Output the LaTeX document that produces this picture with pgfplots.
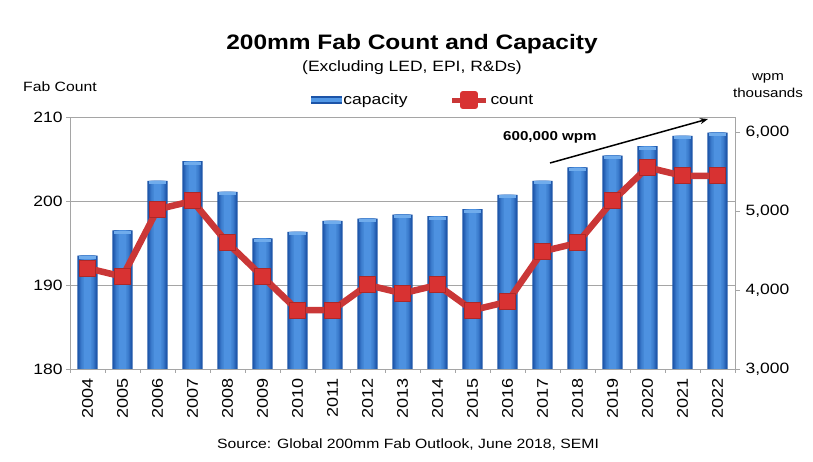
\documentclass[border=0pt]{standalone}
\usepackage{pgfplots}
\usepackage{pgfplotstable}
\pgfplotsset{compat=1.18}
\usepackage{fontspec}
\setmainfont{Liberation Sans}[FakeStretch=1.17]
\usetikzlibrary{arrows.meta}
\definecolor{barL}{RGB}{28,84,168}
\definecolor{barM}{RGB}{82,152,230}
\definecolor{barCap}{RGB}{112,172,236}
\definecolor{lineR}{RGB}{202,55,55}
\definecolor{markR}{RGB}{216,50,50}
\definecolor{gridG}{RGB}{165,165,165}
\pgfplotstableread{
x cap cnt
0 4440 192
1 4760 191
2 5390 199
3 5640 200
4 5250 195
5 4660 191
6 4740 187
7 4880 187
8 4910 190
9 4960 189
10 4940 190
11 5030 187
12 5210 188
13 5390 194
14 5560 195
15 5710 200
16 5830 204
17 5960 203
18 6000 203
}\datatable
\begin{document}
\begin{tikzpicture}[x=1bp,y=1bp]
\path (0,0) rectangle (813,462);
\pgfplotsset{
  base/.style={at={(70bp,93bp)}, anchor=south west, scale only axis,
    width=665bp, height=252bp, xmin=-0.5, xmax=18.5,
    /pgf/number format/assume math mode=true,
    /pgf/number format/1000 sep={,}},
  lay/.style={ybar, bar width=#1, bar shift=0pt, draw=none},
}
% axis 1: count axis, grid, frame, x labels
\begin{axis}[base, ymin=180, ymax=210,
  ytick={180,190,200,210}, ymajorgrids,
  grid style={gridG, line width=0.9bp},
  axis line style={gridG, line width=0.9bp},
  tick style={gridG, line width=0.9bp},
  tick align=outside,
  ytick pos=left,
  xtick={0,...,18}, major x tick style={draw=none},
  minor xtick={-0.5,0.5,...,18.5}, xtick pos=bottom,
  minor tick length=4bp, major tick length=4bp,
  xticklabels={2004,2005,2006,2007,2008,2009,2010,2011,2012,2013,2014,2015,2016,2017,2018,2019,2020,2021,2022},
  x tick label style={rotate=90, anchor=east, font=\fontsize{15.5}{15.5}\selectfont, xshift=-2bp},
  y tick label style={font=\fontsize{15}{15}\selectfont},
]
\end{axis}
% axis 2: capacity bars
\begin{axis}[base, ymin=3000, ymax=6200,
  axis x line=none, axis y line*=right,
  axis line style={gridG, line width=0.9bp},
  tick style={gridG, line width=0.9bp},
  tick align=outside, major tick length=5bp,
  ytick={3000,4000,5000,6000},
  y tick label style={font=\fontsize{15}{15}\selectfont, xshift=2bp},
]
\addplot[lay=0.58, fill=barL] table[x=x, y=cap] {\datatable};
\addplot[lay=0.51, fill=barL!80!barM] table[x=x, y=cap] {\datatable};
\addplot[lay=0.44, fill=barL!60!barM] table[x=x, y=cap] {\datatable};
\addplot[lay=0.37, fill=barL!42!barM] table[x=x, y=cap] {\datatable};
\addplot[lay=0.29, fill=barL!25!barM] table[x=x, y=cap] {\datatable};
\addplot[lay=0.20, fill=barL!10!barM] table[x=x, y=cap] {\datatable};
\addplot[only marks, mark=-, mark size=8.5bp,
  mark options={draw=barCap, line width=3bp, yshift=-2bp}] table[x=x, y=cap] {\datatable};
\end{axis}
% axis 3: count line
\begin{axis}[base, ymin=180, ymax=210, hide axis,
  legend style={at={(0.531,1.067)}, anchor=center, draw=none, fill=none,
    legend columns=2, font=\fontsize{15}{15}\selectfont,
    /tikz/every even column/.append style={column sep=40bp}},
]
\addlegendimage{legend image code/.code={
  \fill[barL] (0bp,-3.5bp) rectangle (30bp,3.5bp);
  \fill[barM] (0bp,-1.5bp) rectangle (30bp,1.5bp);}}
\addlegendentry{capacity}
\addplot[lineR, line width=6.5bp, line join=round, mark=square*, mark size=8bp,
  mark options={fill=markR, draw=markR!80!black, line width=1bp},
  legend image code/.code={
    \draw[lineR, line width=5bp] (0bp,0bp) -- (34bp,0bp);
    \fill[markR] (11bp,-6bp) rectangle (23bp,6bp);}]
  table[x=x, y=cnt] {\datatable};
\addlegendentry{count}
\end{axis}
% texts
\node[anchor=base, font=\fontsize{21}{24}\bfseries\selectfont] at (412,412) {200mm Fab Count and Capacity};
\node[anchor=base, font=\fontsize{15}{18}\selectfont] at (412,390) {(Excluding LED, EPI, R\&Ds)};
\node[anchor=base west, font=\fontsize{13.5}{15}\selectfont, inner sep=0pt] at (23,370) {Fab Count};
\node[anchor=base, font=\fontsize{13}{15}\selectfont] at (768,381) {wpm};
\node[anchor=base, font=\fontsize{13}{15}\selectfont] at (768,364) {thousands};
\node[anchor=base, font=\fontsize{13.5}{15}\selectfont] at (408,13) {Source: Global 200mm Fab Outlook, June 2018, SEMI};
\node[anchor=base west, font=\fontsize{13}{15}\bfseries\selectfont, inner sep=0pt] at (503,321) {600,000 wpm};
\draw[-{Stealth[length=8bp,width=6bp]}, line width=1.5bp] (550,299) -- (708,343);
\end{tikzpicture}
\end{document}
